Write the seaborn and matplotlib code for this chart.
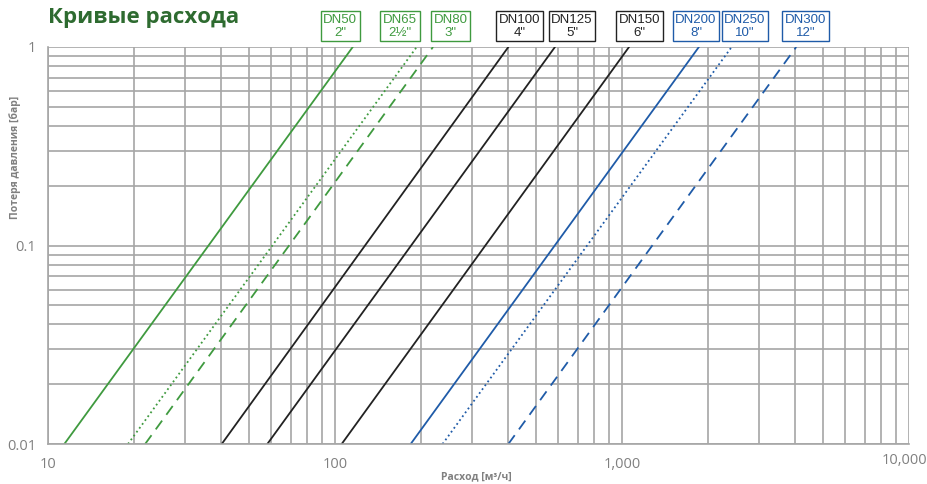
import numpy as np
import pandas as pd
import seaborn as sns
import matplotlib.pyplot as plt
from matplotlib.ticker import FixedLocator, FuncFormatter, NullFormatter
import matplotlib.transforms as mtransforms

# ------------ DATA ------------
sizes = ["DN50", "DN65", "DN80", "DN100", "DN125", "DN150", "DN200", "DN250", "DN300"]
inches = ['2"', '2½"', '3"', '4"', '5"', '6"', '8"', '10"', '12"']
# flow [m3/h] where each curve crosses 0.01 bar and 1 bar
q_at_001 = [11.4, 19.0, 21.8, 40.3, 58.1, 105.5, 183.5, 237.0, 401.8]
q_at_1 = [115.3, 192.6, 219.5, 401.8, 584.0, 1058.0, 1853.0, 2410.0, 4046.0]
p_ends = [0.01, 1.0]
x_ticks = [10, 100, 1000, 10000]
# ---------------------------------------------------

GREEN = "#3f9a3f"
BLACK = "#222222"
BLUE = "#1f5ba8"
colors = [GREEN] * 3 + [BLACK] * 3 + [BLUE] * 3
DASH = (0, (6, 4))
styles = ["-", ":", DASH, "-", "-", "-", "-", ":", DASH]
label_x = [104.4, 168.5, 252.6, 439.5, 669.6, 1151, 1811, 2684, 4355]

rows = []
for name, q0, q1 in zip(sizes, q_at_001, q_at_1):
    rows.append({"size": name, "q": q0, "p": p_ends[0]})
    rows.append({"size": name, "q": q1, "p": p_ends[1]})
df = pd.DataFrame(rows)

sns.set_style("white")
plt.rcParams["font.family"] = ["Liberation Sans", "DejaVu Sans"]

fig = plt.figure(figsize=(9.28, 4.84), dpi=100)
ax = fig.add_axes([48 / 928, 1 - 444 / 484, 861 / 928, 397 / 484])

for i, name in enumerate(sizes):
    sub = df[df["size"] == name]
    sns.lineplot(data=sub, x="q", y="p", ax=ax, color=colors[i],
                 linestyle=styles[i], linewidth=1.3, legend=False)

ax.set_xscale("log")
ax.set_yscale("log")
ax.set_xlim(x_ticks[0], x_ticks[-1])
ax.set_ylim(0.01, 1.0)

grid_c = "#a6a6a6"
ax.grid(True, which="both", color=grid_c, linewidth=1.2)
ax.set_axisbelow(True)
for s in ax.spines.values():
    s.set_visible(False)
for side in ["left", "bottom"]:
    ax.spines[side].set_visible(True)
    ax.spines[side].set_color(grid_c)
    ax.spines[side].set_linewidth(1.2)

# last x label ("10,000") is drawn separately so it isn't clipped at the edge
ax.xaxis.set_major_locator(FixedLocator(x_ticks))
ax.xaxis.set_major_formatter(
    FuncFormatter(lambda v, p: "" if v >= x_ticks[-1] else f"{v:,.0f}"))
ax.xaxis.set_minor_formatter(NullFormatter())
ax.yaxis.set_major_locator(FixedLocator([0.01, 0.1, 1]))
ax.yaxis.set_major_formatter(FuncFormatter(lambda v, p: f"{v:g}"))
ax.yaxis.set_minor_formatter(NullFormatter())
ax.tick_params(axis="both", which="both", length=5, color=grid_c,
               labelcolor="#808080", labelsize=10.5)
ax.tick_params(axis="x", which="both", length=0, pad=9)
for lab in ax.get_xticklabels() + ax.get_yticklabels():
    lab.set_family(["Open Sans", "DejaVu Sans"])

fig.text(927 / 928, 1 - 461 / 484, f"{x_ticks[-1]:,}", ha="right", va="center",
         fontsize=10.5, color="#808080", family=["Open Sans", "DejaVu Sans"])

ax.set_xlabel("Расход [м³/ч]", fontsize=7.5, color="#808080", fontweight="bold",
              family=["Open Sans", "DejaVu Sans"], va="center")
ax.xaxis.set_label_coords(0.497, -0.083)
ax.set_ylabel("Потеря давления [бар]", fontsize=7.5, color="#808080", fontweight="bold",
              family=["Open Sans", "DejaVu Sans"], va="center")
ax.yaxis.set_label_coords(-0.038, 0.723)

fig.text(48 / 928, 1 - 17 / 484, "Кривые расхода", fontsize=16, fontweight="bold",
         color="#2e6b30", va="center", ha="left", family=["Open Sans", "DejaVu Sans"])

trans = mtransforms.blended_transform_factory(ax.transData, ax.transAxes)
for i, name in enumerate(sizes):
    ax.text(label_x[i], 1.052, f"{name}\n{inches[i]}", transform=trans,
            ha="center", va="center", fontsize=9.5, color=colors[i],
            linespacing=1.05, clip_on=False,
            bbox=dict(boxstyle="square,pad=0.2", fc="white", ec=colors[i], lw=1.0))

plt.savefig("out.png", dpi=100)
